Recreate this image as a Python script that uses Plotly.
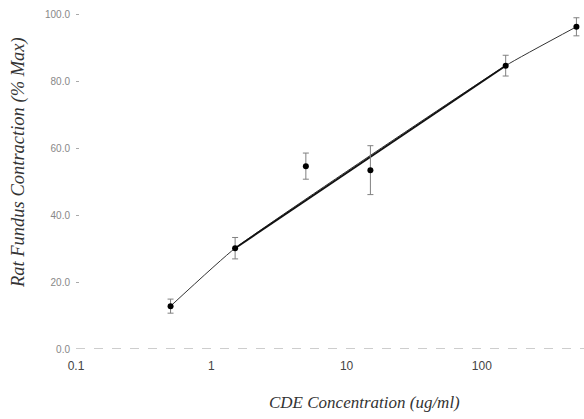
import plotly.graph_objects as go

# Data
conc = [0.5, 1.5, 5, 15, 150, 500]                 # CDE concentration (ug/ml)
contraction = [12.8, 30.1, 54.6, 53.4, 84.6, 96.2]  # % Max
err = [2.1, 3.2, 3.9, 7.3, 3.1, 2.7]

# fitted curve (through selected points)
fit_x = [0.5, 1.5, 150, 500]
fit_y = [12.8, 30.1, 84.6, 96.2]
lin_x = [1.5, 150]
lin_y = [30.1, 84.6]

x_ticks = [0.1, 1, 10, 100]
x_ticktext = ["0.1", "1", "10", "100"]
y_ticks = [0, 20, 40, 60, 80, 100]

fig = go.Figure()
fig.add_trace(go.Scatter(x=fit_x, y=fit_y, mode="lines",
                         line=dict(color="#333333", width=1, shape="spline", smoothing=0.4),
                         hoverinfo="skip", showlegend=False))
fig.add_trace(go.Scatter(x=lin_x, y=lin_y, mode="lines",
                         line=dict(color="#111111", width=1.8),
                         hoverinfo="skip", showlegend=False))
fig.add_trace(go.Scatter(x=conc, y=contraction, mode="markers",
                         marker=dict(color="#000000", size=6),
                         error_y=dict(type="data", array=err, color="#808080", thickness=1, width=3),
                         cliponaxis=False, showlegend=False))

fig.add_shape(type="line", xref="paper", yref="y", x0=0, x1=1, y0=0, y1=0,
              line=dict(color="#9a9a9a", width=1, dash="dash"), layer="below")

fig.update_layout(
    width=584, height=419,
    margin=dict(l=76, r=0, t=0, b=70),
    paper_bgcolor="white", plot_bgcolor="white",
    font=dict(family="Liberation Sans, Arial, sans-serif", color="#444444"),
    xaxis=dict(type="log", range=[-1, 2.755], tickvals=x_ticks, ticktext=x_ticktext,
               showgrid=False, zeroline=False, showline=False, ticks="",
               tickfont=dict(size=12, color="#444444"), ticklabelstandoff=8),
    yaxis=dict(range=[0, 104.2], tickvals=y_ticks, tickformat=".1f",
               showgrid=False, zeroline=False, showline=False,
               ticks="inside", ticklen=3, tickcolor="#aaaaaa",
               tickfont=dict(size=10, color="#888888"), ticklabelstandoff=5),
    annotations=[
        dict(text="<i>CDE Concentration (ug/ml)</i>", xref="paper", yref="paper",
             x=(364 - 76) / 508, y=-(403 - 349) / 349, showarrow=False,
             xanchor="center", yanchor="middle",
             font=dict(family="Liberation Serif, Times New Roman, serif", size=17, color="#333333"),
             ),
        dict(text="<i>Rat Fundus Contraction (% Max)</i>", xref="paper", yref="paper",
             x=-(76 - 19) / 508, y=(349 - 163) / 349, showarrow=False, textangle=-90,
             xanchor="center", yanchor="middle",
             font=dict(family="Liberation Serif, Times New Roman, serif", size=18.5, color="#333333"),
             ),
    ],
)

fig.write_html("out.html")
